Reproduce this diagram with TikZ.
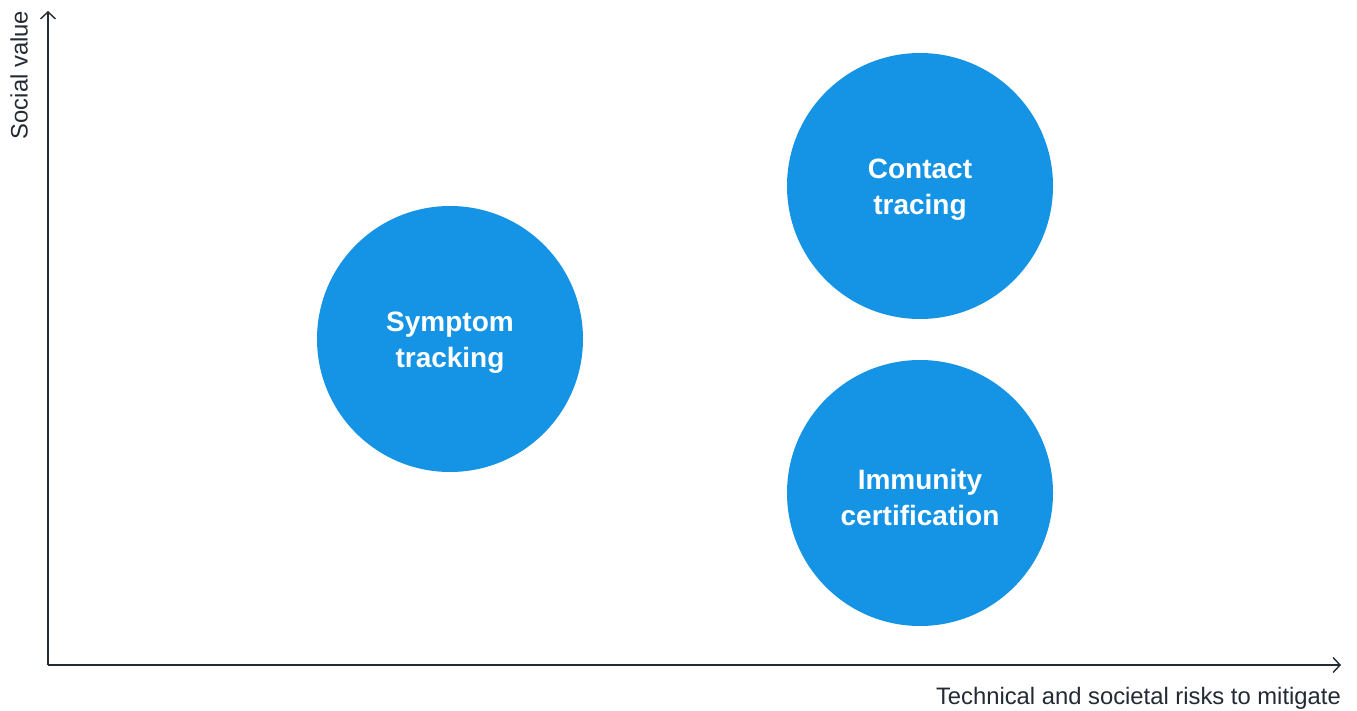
\documentclass[tikz,border=0pt]{standalone}
\usepackage{fontspec}
\setmainfont{Liberation Sans}
\usetikzlibrary{arrows.meta}
\definecolor{axiscol}{HTML}{222A33}
\definecolor{bubble}{HTML}{1593E5}
\tikzset{
  axis/.style={draw=axiscol, line width=1.4pt, -{Straight Barb[length=7pt,width=15pt,line width=1.4pt]}},
  bubblenode/.style={circle, fill=bubble, minimum size=266pt, inner sep=0pt},
  bubbletext/.style={text=white, inner sep=0pt,
    font=\fontsize{28}{36}\selectfont\bfseries, align=center},
  axlabel/.style={text=axiscol, font=\fontsize{23.8}{26}\selectfont, inner sep=0pt}
}
\begin{document}
\begin{tikzpicture}[x=1pt,y=-1pt]
\useasboundingbox (0,0) rectangle (1357,711);
\coordinate (origin) at (48,665);
\coordinate (ytop) at (48,11);
\coordinate (xend) at (1341,665);
\draw[axis] (origin) -- (ytop);
\draw[axis] (origin) -- (xend);
\node[axlabel, rotate=90] (ylab) at (19,75) {Social value};
\node[axlabel, anchor=east] (xlab) at (1341,698) {Technical and societal risks to mitigate};
\node[bubblenode] (symptom) at (450,339) {};
\node[bubblenode] (contact) at (920,186) {};
\node[bubblenode] (immunity) at (920,493) {};
\node[bubbletext] (symptomtxt) at ([yshift=-4pt]symptom.center) {Symptom\\tracking};
\node[bubbletext] (contacttxt) at ([yshift=-4pt]contact.center) {Contact\\tracing};
\node[bubbletext] (immunitytxt) at ([yshift=-4pt]immunity.center) {Immunity\\certification};
\end{tikzpicture}
\end{document}
